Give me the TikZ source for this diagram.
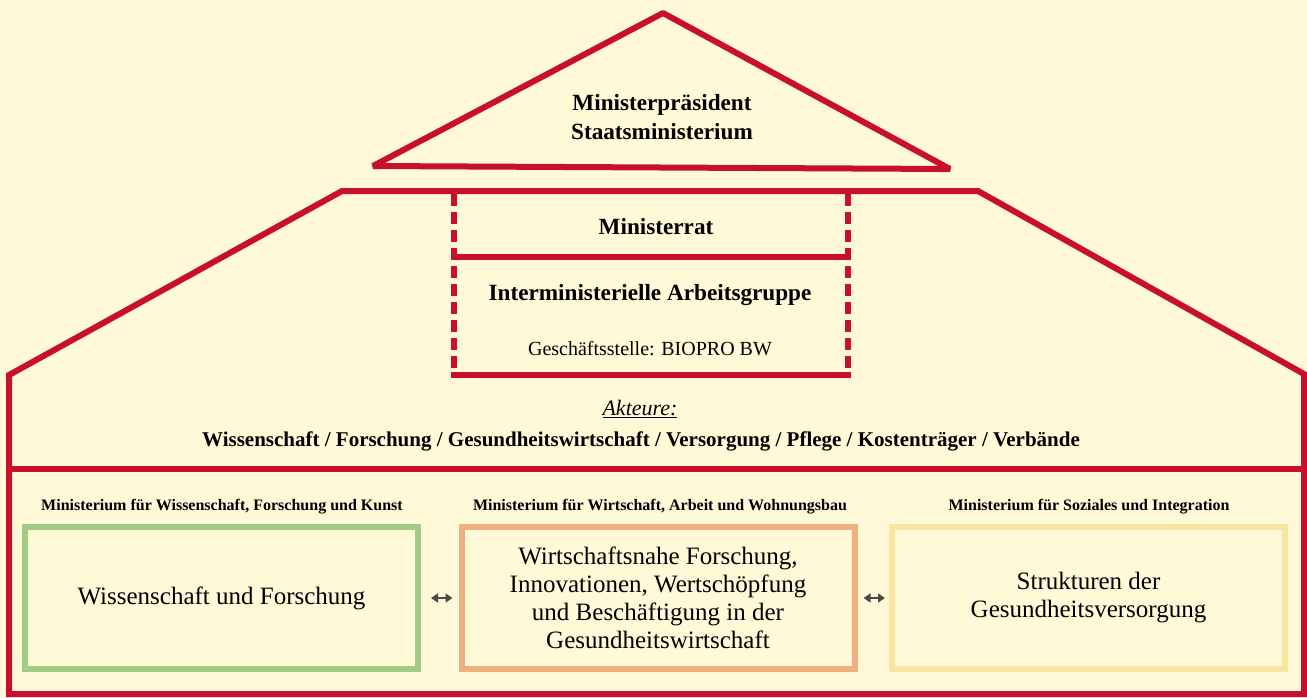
\documentclass[tikz,border=0pt]{standalone}
\usepackage{fontspec}
\setmainfont{Liberation Serif}
\usetikzlibrary{arrows.meta}
\definecolor{bg}{HTML}{FFF9D8}
\definecolor{rd}{HTML}{C8102E}
\definecolor{grn}{HTML}{A2CC86}
\definecolor{orn}{HTML}{EFB07F}
\definecolor{yel}{HTML}{F9E4A0}
\definecolor{arr}{HTML}{4A4A4A}
\tikzset{
  redline/.style={draw=rd, line width=6pt},
  dashline/.style={draw=rd, line width=6pt, dash pattern=on 12pt off 6pt},
  head/.style={font=\fontsize{23.2}{27}\selectfont\bfseries, inner sep=0pt},
  small/.style={font=\fontsize{20}{24}\selectfont, inner sep=0pt},
  minlabel/.style={font=\fontsize{16}{19}\selectfont\bfseries, inner sep=0pt},
  mbox/.style={line width=6pt, minimum width=393pt, minimum height=142pt, inner sep=0pt, outer sep=0pt, align=center, font=\fontsize{25}{28}\selectfont},
  dblarrow/.style={draw=arr, line width=1.6pt, {Triangle[length=7pt,width=9pt]}-{Triangle[length=7pt,width=9pt]}}
}
\begin{document}
\begin{tikzpicture}[x=1pt,y=-1pt]
\fill[bg] (0,0) rectangle (1307,697);
\useasboundingbox (0,0) rectangle (1307,697);
% roof triangle
\draw[redline, line join=bevel] (663,13) -- (950,169) -- (373,166) -- cycle;
\node[head, align=center] (mp) at (662,117) {Ministerpräsident\\[1.5pt]Staatsministerium};
% house
\draw[redline] (9,375) -- (342,191) -- (978,191) -- (1304,374) -- (1304,694) -- (9,694) -- cycle;
\draw[redline] (9,469) -- (1304,469);
% dashed box
\draw[dashline] (454,194) -- (454,375);
\draw[dashline] (848,194) -- (848,375);
\draw[redline] (451,257) -- (851,257);
\draw[redline] (451,375) -- (851,375);
\node[head] (rat) at (656,227) {Ministerrat};
\node[head] (iag) at (650,295) {Interministerielle Arbeitsgruppe};
\node[small] (gs) at (650,349) {Geschäftsstelle: BIOPRO BW};
% actors
\node[small, font=\fontsize{22}{26}\selectfont\itshape] (akt) at (640,409) {\underline{Akteure:}};
\node[head, font=\fontsize{21}{25}\selectfont\bfseries] (akl) at (641,441) {Wissenschaft / Forschung / Gesundheitswirtschaft / Versorgung / Pflege / Kostenträger / Verbände};
% ministry labels
\node[minlabel] (l1) at (222,507) {Ministerium für Wissenschaft, Forschung und Kunst};
\node[minlabel] (l2) at (660,507) {Ministerium für Wirtschaft, Arbeit und Wohnungsbau};
\node[minlabel] (l3) at (1089,507) {Ministerium für Soziales und Integration};
% boxes
\node[mbox, draw=grn] (wiss) at (221.5,598) {\raisebox{-3pt}{Wissenschaft und Forschung}};
\node[mbox, draw=orn] (wirt) at (658,598) {Wirtschaftsnahe Forschung,\\Innovationen, Wertschöpfung\\und Beschäftigung in der\\Gesundheitswirtschaft};
\node[mbox, draw=yel] (soz) at (1088.5,598) {Strukturen der\\Gesundheitsversorgung};
\draw[dblarrow, shorten <=13pt, shorten >=9pt] (wiss.east) -- (wirt.west);
\draw[dblarrow, shorten <=9pt, shorten >=7pt] (wirt.east) -- (soz.west);
\end{tikzpicture}
\end{document}
